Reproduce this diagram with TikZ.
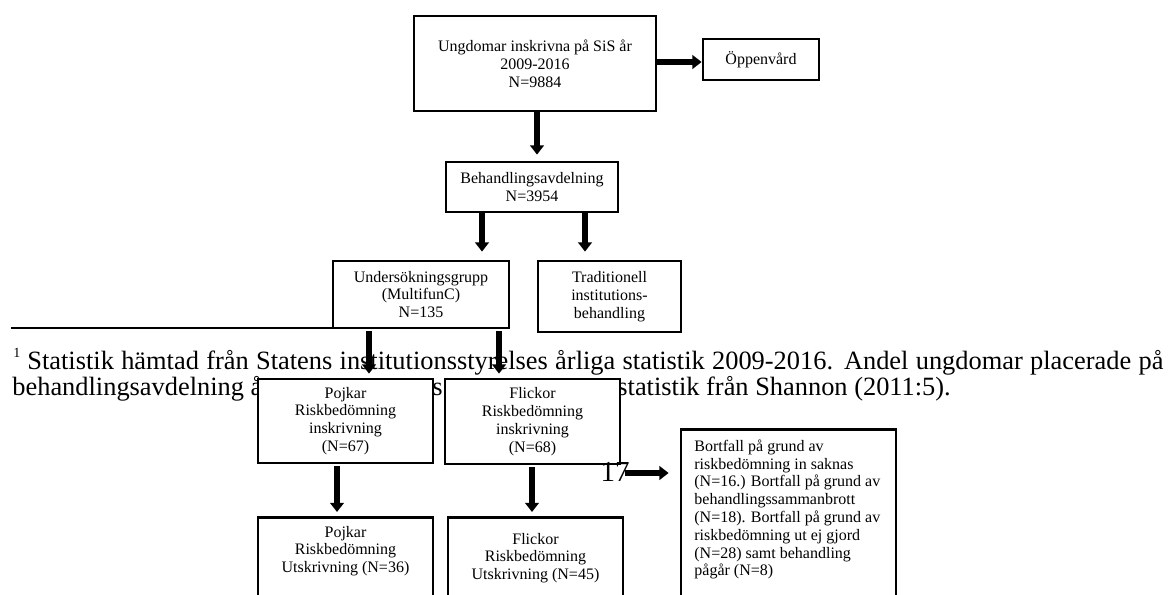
\documentclass[tikz,border=0pt]{standalone}
\usepackage{fontspec}
\setmainfont{Liberation Serif}
\usetikzlibrary{arrows.meta,calc}
\newcommand{\boxfont}{\fontsize{8}{8.9}\selectfont}
\newcommand{\fnfont}{\fontsize{13.2}{13}\selectfont}
\tikzset{
  box/.style={draw, line width=1.4pt, fill=white, inner sep=0pt, align=center, font=\boxfont},
  boxtext/.style={inner sep=0pt, align=center, font=\boxfont},
  fntext/.style={inner sep=0pt, anchor=base west, font=\fnfont},
  arr/.style={line width=2.6pt, -{Triangle[width=6.8pt,length=4.6pt]}},
  sepline/.style={line width=1.3pt}
}
\begin{document}
\begin{tikzpicture}[x=0.5pt,y=-0.5pt]
\useasboundingbox (0,0) rectangle (1170,594);
\clip (0,0) rectangle (1170,594);
% footnote text (drawn first, partly covered by boxes)
\node[inner sep=0pt, anchor=base west, font=\fontsize{7}{7}\selectfont] (fnmark) at (13,357) {1};
\node[fntext] (fn1) at (27,369) {\makebox[568pt][s]{Statistik hämtad från Statens institutionsstyrelses årliga statistik 2009-2016. Andel ungdomar placerade på}};
\node[fntext] (fn2a) at (12,395) {behandlingsavdelning å};
\node[fntext] (fn2b) at (432,395) {s};
\node[fntext] (fn2c) at (617,395) {statistik från Shannon (2011:5).};
\coordinate (fnl) at (11,328);
% boxes
\node[box, minimum width=121pt, minimum height=47.5pt] (b1) at (535,63.5) {Ungdomar inskrivna på SiS år\\2009-2016\\N=9884};
\node[box, minimum width=58pt, minimum height=20.5pt] (opp) at (761,59.5) {Öppenvård};
\node[box, minimum width=86pt, minimum height=25pt] (beh) at (532,187) {Behandlingsavdelning\\N=3954};
\node[box, minimum width=88pt, minimum height=33.5pt] (und) at (421,294.5) {Undersökningsgrupp\\(MultifunC)\\N=135};
\node[box, minimum width=71.5pt, minimum height=35.5pt] (trad) at (609.5,296.5) {Traditionell\\institutions-\\behandling};
\draw[sepline] (fnl) -- (fnl -| und.west);
\node[box, minimum width=87.5pt, minimum height=42pt] (pi) at (345.5,421) {Pojkar\\Riskbedömning\\inskrivning\\(N=67)};
\node[box, minimum width=87.5pt, minimum height=42.5pt] (fi) at (532.5,421.5) {Flickor\\Riskbedömning\\inskrivning\\(N=68)};
\node[box, anchor=north, minimum width=87.5pt, minimum height=55pt] (pu) at (345.5,516) {};
\node[boxtext] (put) at (345.5,551) {Pojkar\\Riskbedömning\\Utskrivning (N=36)};
\node[box, anchor=north, minimum width=87.5pt, minimum height=55pt] (fu) at (535.5,516) {};
\node[boxtext] (fut) at (535.5,558) {Flickor\\Riskbedömning\\Utskrivning (N=45)};
\node[box, anchor=north, minimum width=107.5pt, minimum height=95pt] (bort) at (788.5,428) {};
\node[boxtext, align=left, anchor=west] (bortt) at (694,509.5) {Bortfall på grund av\\riskbedömning in saknas\\(N=16.) Bortfall på grund av\\behandlingssammanbrott\\(N=18). Bortfall på grund av\\riskbedömning ut ej gjord\\(N=28) samt behandling\\pågår (N=8)};
% page number
\node[inner sep=0pt, font=\fontsize{14.5}{14.5}\selectfont] (pg) at (615,472) {17};
% arrow x/y positions
\coordinate (x1) at (537,0);
\coordinate (y1) at (0,62);
\coordinate (xa) at (482,0);
\coordinate (xb) at (585,0);
\coordinate (xc) at (369,0);
\coordinate (xd) at (499,0);
\coordinate (xe) at (337,0);
\coordinate (xf) at (532,0);
\coordinate (s17) at (625,473);
% arrows
\draw[arr] (b1.east |- y1) -- (opp.west |- y1);
\draw[arr, shorten >=3pt] (b1.south -| x1) -- (beh.north -| x1);
\draw[arr, shorten >=4pt] (beh.south -| xa) -- (und.north -| xa);
\draw[arr, shorten >=4pt] (beh.south -| xb) -- (trad.north -| xb);
\draw[arr, shorten >=2pt] ([yshift=-1pt]und.south -| xc) -- (pi.north -| xc);
\draw[arr, shorten >=2pt] ([yshift=-1pt]und.south -| xd) -- (fi.north -| xd);
\draw[arr, shorten >=2pt] ([yshift=-1pt]pi.south -| xe) -- (pu.north -| xe);
\draw[arr, shorten >=2pt] ([yshift=-1pt]fi.south -| xf) -- (fu.north -| xf);
\draw[arr, shorten >=5.5pt] (s17) -- (s17 -| bort.west);
\end{tikzpicture}
\end{document}
